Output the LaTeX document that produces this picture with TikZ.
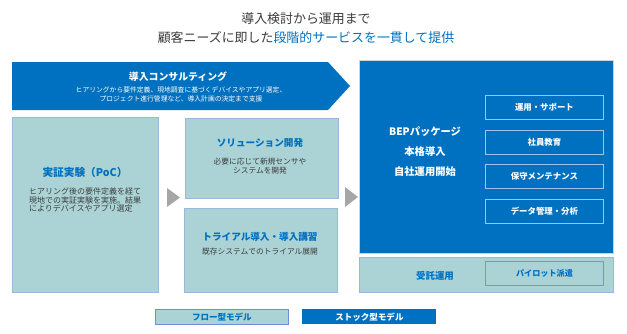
\documentclass[tikz,border=0pt]{standalone}
\usepackage{fontspec}
\setmainfont{Noto Sans CJK JP}
\usetikzlibrary{positioning}
\definecolor{bepblue}{RGB}{0,112,192}
\definecolor{flowteal}{RGB}{171,211,213}
\definecolor{flowedge}{RGB}{150,185,220}
\definecolor{svcedge}{RGB}{160,195,232}
\definecolor{pilotedge}{RGB}{120,150,200}
\definecolor{legendedge}{RGB}{110,140,220}
\definecolor{bodygray}{RGB}{60,60,60}
\definecolor{trigray}{RGB}{166,166,166}

\begin{document}
\begin{tikzpicture}[
    x=0.75pt,y=-0.75pt,
    node distance=7.35pt,
    flowbox/.style={draw=flowedge,fill=flowteal,line width=0.6pt,inner sep=0pt,anchor=north west},
    svc/.style={draw=svcedge,line width=0.6pt,inner sep=0pt,minimum width=88.5pt,minimum height=18pt,text=white,font=\fontsize{6.3}{7}\selectfont\bfseries},
    head/.style={text=bepblue,font=\fontsize{7.2}{8}\selectfont\bfseries,inner sep=0pt},
    body/.style={text=bodygray,align=center,font=\fontsize{5.8}{6.8}\selectfont,inner sep=0pt},
    legend/.style={inner sep=0pt,minimum height=11.25pt,line width=0.6pt,anchor=north west,font=\fontsize{6.4}{7}\selectfont\bfseries}
]
\useasboundingbox (0,0) rectangle (627,333);

\node[align=center,text=bodygray,font=\fontsize{9.7}{14.2}\selectfont] (title) at (306,28)
  {導入検討から運用まで\\顧客ニーズに即した\textcolor{bepblue}{段階的サービスを一貫して提供}};

\fill[bepblue] (12,62) -- (328,62) -- (350,86) -- (328,110) -- (12,110) -- cycle;
\node[text=white,font=\fontsize{7.4}{8}\selectfont\bfseries,inner sep=0pt] (consult) at (178,77) {導入コンサルティング};
\node[text=white,align=center,font=\fontsize{5.1}{6.75}\selectfont,inner sep=0pt] (consultsub) at (181,94.5)
  {ヒアリングから要件定義、現地調査に基づくデバイスやアプリ選定、\\プロジェクト進行管理など、導入計画の決定まで支援};

\node[flowbox,minimum width=109.5pt,minimum height=131.25pt] (poc) at (12,117) {};
\node[head,font=\fontsize{8}{9}\selectfont\bfseries] (poctitle) at (85,172) {実証実験（PoC）};
\node[body,align=left,font=\fontsize{6}{6.1}\selectfont] (pocbody) at (85,200)
  {ヒアリング後の要件定義を経て\\現地での実証実験を実施。結果\\によりデバイスやアプリ選定};

\fill[trigray] (167,188) -- (180,197.5) -- (167,207) -- cycle;

\node[flowbox,minimum width=114.75pt,minimum height=60pt] (sol) at (185,118) {};
\node[head] (soltitle) at (260,143) {ソリューション開発};
\node[body] (solbody) at (260,166.5) {必要に応じて新規センサや\\システムを開発};

\node[flowbox,minimum width=114.75pt,minimum height=63pt] (trial) at (184,208) {};
\node[head] (trialtitle) at (260,237) {トライアル導入・導入講習};
\node[body] (trialbody) at (260,252) {既存システムでのトライアル展開};

\fill[trigray] (345,187) -- (358,197) -- (345,207) -- cycle;

\node[draw=gray!35,fill=bepblue,line width=0.4pt,inner sep=0pt,anchor=north west,minimum width=190.5pt,minimum height=144.75pt] (panel) at (359,60) {};
\node[text=white,align=center,font=\fontsize{7.7}{15}\selectfont\bfseries,inner sep=0pt] (bep) at (425,152)
  {BEPパッケージ\\本格導入\\自社運用開始};
\node[svc,anchor=north west] (ops) at (485,95) {運用・サポート};
\node[svc,below=of ops] (edu) {社員教育};
\node[svc,below=of edu] (maint) {保守メンテナンス};
\node[svc,below=of maint] (data) {データ管理・分析};

\node[flowbox,minimum width=190.5pt,minimum height=26.25pt] (strip) at (359,257) {};
\node[head,font=\fontsize{7.1}{8}\selectfont\bfseries] (outsource) at (435,276) {受託運用};
\node[draw=pilotedge,line width=0.7pt,inner sep=0pt,minimum width=88.5pt,minimum height=18pt,anchor=north west,
  text=bepblue,font=\fontsize{6.1}{7}\selectfont\bfseries] (pilot) at (485,261) {パイロット派遣};

\node[legend,draw=legendedge,fill=flowteal,text=bepblue,minimum width=99.75pt] (flowkey) at (155,309) {フロー型モデル};
\node[legend,fill=bepblue,text=white,minimum width=100.5pt] (stockkey) at (302,309) {ストック型モデル};
\end{tikzpicture}
\end{document}
